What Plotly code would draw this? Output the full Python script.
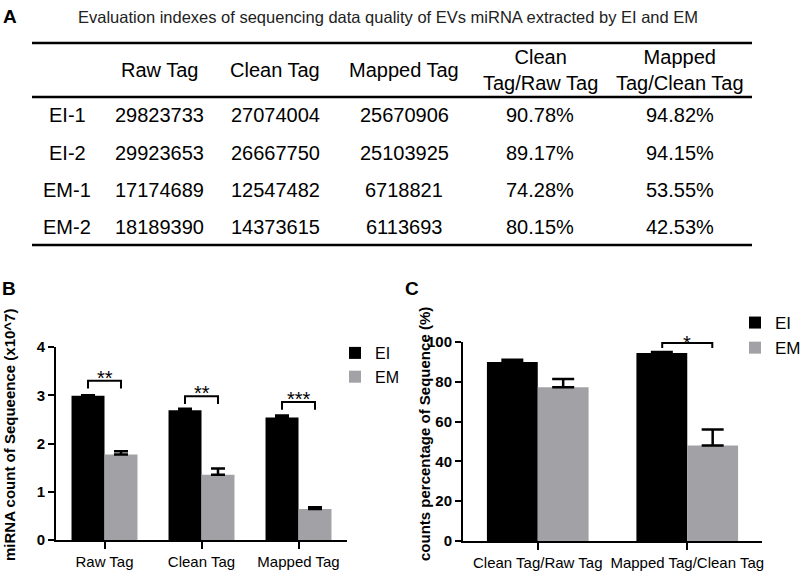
import plotly.graph_objects as go

W, H = 803, 576
FONT = "Liberation Sans, Arial, sans-serif"

# ---------------- data ----------------
table_title = "Evaluation indexes of sequencing data quality of EVs miRNA extracted by EI and EM"
table_headers = ["Raw Tag", "Clean Tag", "Mapped Tag", "Clean<br>Tag/Raw Tag", "Mapped<br>Tag/Clean Tag"]
row_labels = ["EI-1", "EI-2", "EM-1", "EM-2"]
raw_tag = [29823733, 29923653, 17174689, 18189390]
clean_tag = [27074004, 26667750, 12547482, 14373615]
mapped_tag = [25670906, 25103925, 6718821, 6113693]
clean_raw_pct = [90.78, 89.17, 74.28, 80.15]
mapped_clean_pct = [94.82, 94.15, 53.55, 42.53]

groups = ["EI", "EM"]

b_categories = ["Raw Tag", "Clean Tag", "Mapped Tag"]
b_ei = [2.99, 2.69, 2.54]
b_ei_err = [0.01, 0.03, 0.04]
b_em = [1.77, 1.35, 0.64]
b_em_err = [0.07, 0.13, 0.04]
b_sig_labels = ["**", "**", "***"]
b_sig_y = [3.30, 2.98, 2.86]

c_categories = ["Clean Tag/Raw Tag", "Mapped Tag/Clean Tag"]
c_ei = [89.98, 94.49]
c_ei_err = [1.14, 0.47]
c_em = [77.22, 48.04]
c_em_err = [4.15, 7.97]
c_sig_index = [1]
c_sig_labels = ["*"]
c_sig_y = [99.5]

EI_COLOR = "#000000"
EM_COLOR = "#a2a2a6"


def px(x):
    return x / W


def py(y):
    return 1 - y / H


fig = go.Figure()

BARGAP_B = 0.32
BARGAP_C = 0.33

# ---------------- panel B ----------------
bx = list(range(len(b_categories)))
fig.add_trace(go.Bar(x=bx, y=b_ei, name=groups[0], marker=dict(color=EI_COLOR, line=dict(width=0)),
                     error_y=dict(type="data", symmetric=False, array=b_ei_err, arrayminus=[0] * 3,
                                  color="black", thickness=2.5, width=7),
                     xaxis="x", yaxis="y", legend="legend", offsetgroup="ei"))
fig.add_trace(go.Bar(x=bx, y=b_em, name=groups[1], marker=dict(color=EM_COLOR, line=dict(width=0)),
                     error_y=dict(type="data", symmetric=False, array=b_em_err, arrayminus=[0] * 3,
                                  color="black", thickness=2.5, width=7),
                     xaxis="x", yaxis="y", legend="legend", offsetgroup="em"))

annotations = []
shapes = []

half_b = (1 - BARGAP_B) / 4
for i, (lab, yv) in enumerate(zip(b_sig_labels, b_sig_y)):
    tick = 0.16
    fig.add_trace(go.Scatter(x=[i - half_b, i - half_b, i + half_b, i + half_b],
                             y=[yv - tick, yv, yv, yv - tick], mode="lines",
                             line=dict(color="black", width=2), showlegend=False,
                             cliponaxis=False, xaxis="x", yaxis="y", hoverinfo="skip"))
    annotations.append(dict(text=lab, x=i, y=yv, xref="x", yref="y", showarrow=False,
                            xanchor="center", yanchor="middle", yshift=3,
                            font=dict(family=FONT, size=20, color="black")))

# ---------------- panel C ----------------
cx = list(range(len(c_categories)))
fig.add_trace(go.Bar(x=cx, y=c_ei, name=groups[0], marker=dict(color=EI_COLOR, line=dict(width=0)),
                     error_y=dict(type="data", symmetric=False, array=c_ei_err, arrayminus=[0] * 2,
                                  color="black", thickness=2.5, width=11),
                     xaxis="x2", yaxis="y2", legend="legend2", offsetgroup="ei"))
fig.add_trace(go.Bar(x=cx, y=c_em, name=groups[1], marker=dict(color=EM_COLOR, line=dict(width=0)),
                     error_y=dict(type="data", symmetric=False, array=c_em_err, arrayminus=[0] * 2,
                                  color="black", thickness=2.5, width=11),
                     xaxis="x2", yaxis="y2", legend="legend2", offsetgroup="em"))

half_c = (1 - BARGAP_C) / 4
for i, lab, yv in zip(c_sig_index, c_sig_labels, c_sig_y):
    tick = 2.5
    fig.add_trace(go.Scatter(x=[i - half_c, i - half_c, i + half_c, i + half_c],
                             y=[yv - tick, yv, yv, yv - tick], mode="lines",
                             line=dict(color="black", width=2), showlegend=False,
                             cliponaxis=False, xaxis="x2", yaxis="y2", hoverinfo="skip"))
    annotations.append(dict(text=lab, x=i, y=yv, xref="x2", yref="y2", showarrow=False,
                            xanchor="center", yanchor="middle", yshift=0,
                            font=dict(family=FONT, size=20, color="black")))

axis_common = dict(showline=True, linecolor="black", linewidth=2, ticks="outside",
                   tickcolor="black", tickwidth=2, showgrid=False, zeroline=False,
                   mirror=False, fixedrange=True, automargin=False)

# table title & panel letters
annotations.append(dict(text=table_title, x=px(388), y=py(17), xref="paper", yref="paper",
                        showarrow=False, font=dict(family=FONT, size=16.5, color="#222222"),
                        xanchor="center", yanchor="middle"))
for lab, x, y in [("A", 10, 17), ("B", 9, 288), ("C", 412, 288)]:
    annotations.append(dict(text=f"<b>{lab}</b>", x=px(x), y=py(y), xref="paper", yref="paper",
                            showarrow=False, font=dict(family=FONT, size=19, color="black"),
                            xanchor="center", yanchor="middle"))

# table
col_x = [159, 275, 404, 540, 680]
row_y = [115, 153, 190, 227]
label_x = 67
for cxp, htxt in zip(col_x, table_headers):
    annotations.append(dict(text=htxt, x=px(cxp), y=py(70), xref="paper", yref="paper",
                            showarrow=False, font=dict(family=FONT, size=20, color="black"),
                            xanchor="center", yanchor="middle"))
for r, lab in enumerate(row_labels):
    cells = [f"{raw_tag[r]}", f"{clean_tag[r]}", f"{mapped_tag[r]}",
             f"{clean_raw_pct[r]:.2f}%", f"{mapped_clean_pct[r]:.2f}%"]
    annotations.append(dict(text=lab, x=px(label_x), y=py(row_y[r]), xref="paper", yref="paper",
                            showarrow=False, font=dict(family=FONT, size=20, color="black"),
                            xanchor="center", yanchor="middle"))
    for cxp, txt in zip(col_x, cells):
        annotations.append(dict(text=txt, x=px(cxp), y=py(row_y[r]), xref="paper", yref="paper",
                                showarrow=False, font=dict(family=FONT, size=20, color="black"),
                                xanchor="center", yanchor="middle"))
for yl in [43, 97, 245]:
    shapes.append(dict(type="line", xref="paper", yref="paper", x0=px(32), x1=px(752),
                       y0=py(yl), y1=py(yl), line=dict(color="black", width=2.5)))

# y-axis titles
annotations.append(dict(text="<b>miRNA count of Sequeence (x10^7)</b>", x=px(9), y=py(435),
                        xref="paper", yref="paper", showarrow=False, textangle=-90,
                        font=dict(family=FONT, size=15, color="black"),
                        xanchor="center", yanchor="middle"))
annotations.append(dict(text="<b>counts percentage of Sequence (%)</b>", x=px(424), y=py(434),
                        xref="paper", yref="paper", showarrow=False, textangle=-90,
                        font=dict(family=FONT, size=15, color="black"),
                        xanchor="center", yanchor="middle"))

fig.update_layout(
    template="none",
    width=W, height=H, autosize=False,
    margin=dict(l=0, r=0, t=0, b=0, pad=0, autoexpand=False),
    paper_bgcolor="white", plot_bgcolor="white",
    barmode="group", bargap=BARGAP_B, bargroupgap=0,
    hovermode=False,
    font=dict(family=FONT, color="black"),
    xaxis=dict(domain=[px(56), px(347)], anchor="y", range=[-0.5, 2.5],
               tickvals=bx, ticktext=b_categories, ticklen=7,
               tickfont=dict(family=FONT, size=15, color="black"), **axis_common),
    yaxis=dict(domain=[py(540), py(347)], anchor="x", range=[0, 4], dtick=1, ticklen=6,
               tickfont=dict(family=FONT, size=15, color="black", weight="bold"), **axis_common),
    xaxis2=dict(domain=[px(463), px(762)], anchor="y2", range=[-0.5, 1.5],
                tickvals=cx, ticktext=c_categories, ticklen=7,
                tickfont=dict(family=FONT, size=15, color="black"), **axis_common),
    yaxis2=dict(domain=[py(541), py(342)], anchor="x2", range=[0, 100], dtick=20, ticklen=6,
                tickfont=dict(family=FONT, size=15, color="black", weight="bold"), **axis_common),
    legend=dict(x=px(335), y=py(336), xanchor="left", yanchor="top",
                font=dict(family=FONT, size=16, color="black"), bgcolor="rgba(0,0,0,0)",
                itemwidth=30, tracegroupgap=0),
    legend2=dict(x=px(735), y=py(305), xanchor="left", yanchor="top",
                 font=dict(family=FONT, size=17, color="black"), bgcolor="rgba(0,0,0,0)",
                 itemwidth=30, tracegroupgap=0),
    annotations=annotations,
    shapes=shapes,
    showlegend=True,
)

fig.write_html("out.html", config={"displayModeBar": False},
               post_script="document.body.style.margin='0';")
